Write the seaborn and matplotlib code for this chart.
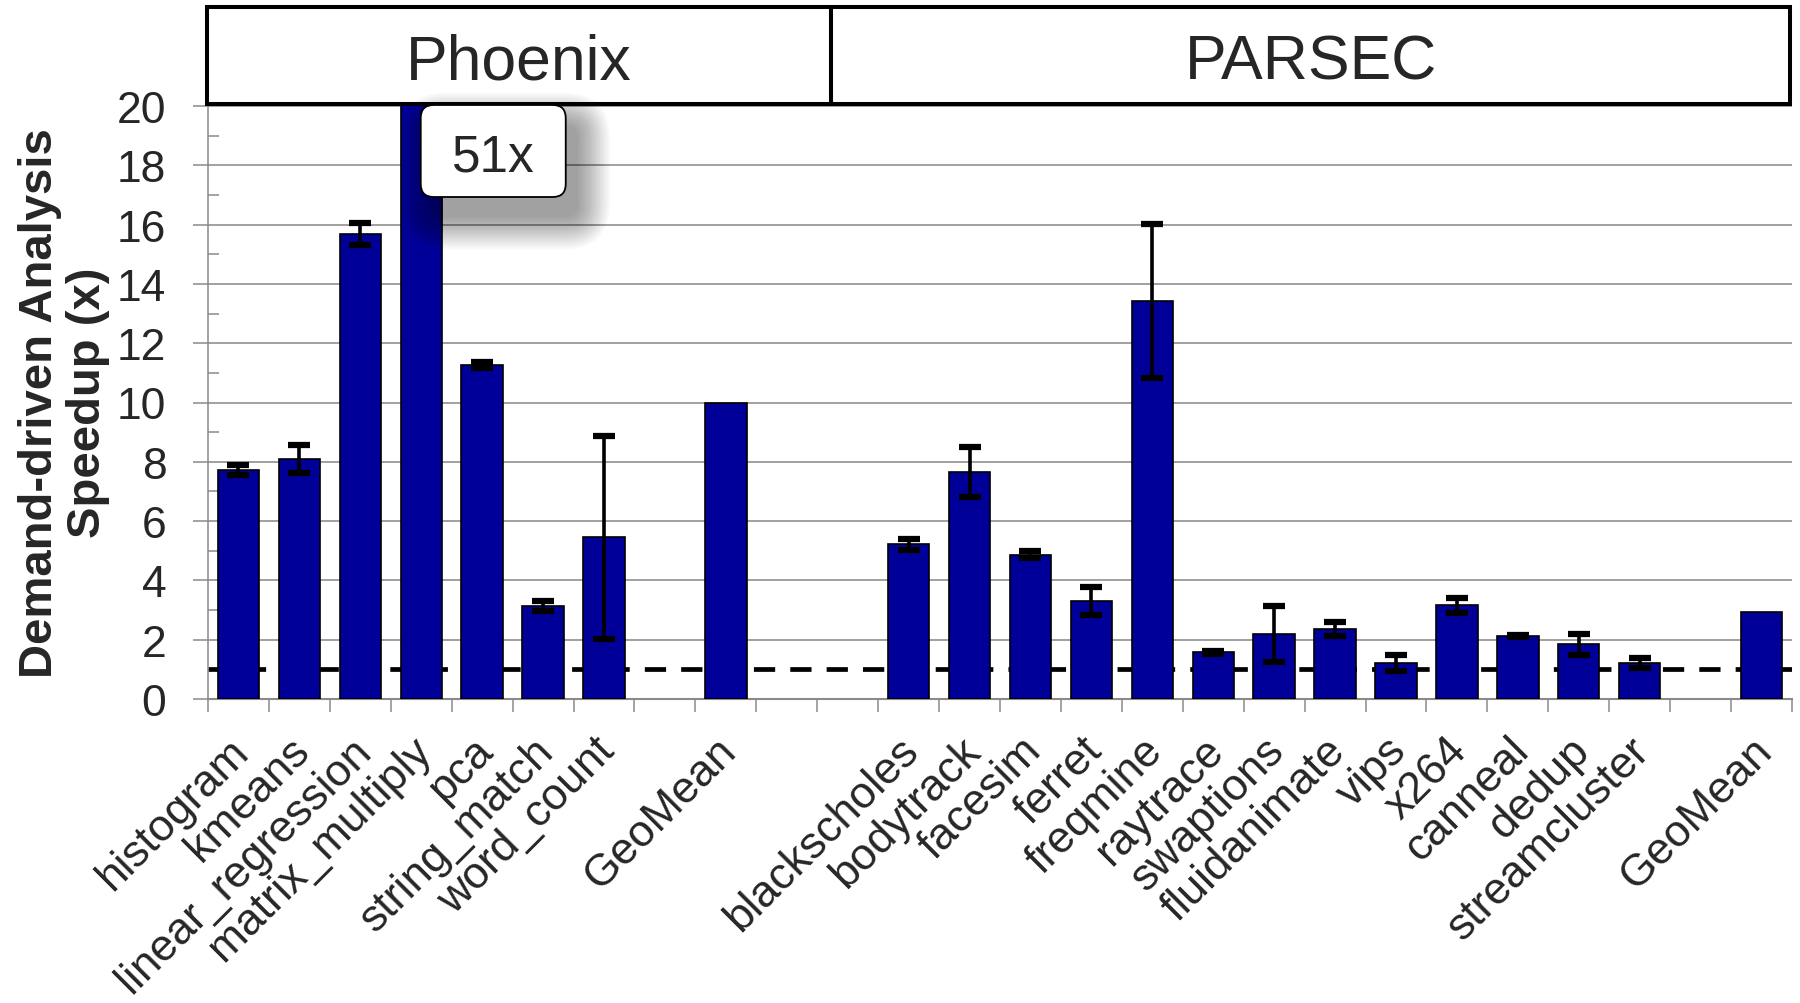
import numpy as np
import pandas as pd
import matplotlib
matplotlib.use("Agg")
import matplotlib.pyplot as plt
import seaborn as sns
from matplotlib.patches import Rectangle, FancyBboxPatch
from matplotlib.transforms import ScaledTranslation, blended_transform_factory, IdentityTransform

# ---- data -------------------------------------------------------------
phoenix_names = ["histogram", "kmeans", "linear_regression", "matrix_multiply",
                 "pca", "string_match", "word_count"]
phoenix_speedup = [7.72, 8.10, 15.68, 51.0, 11.26, 3.14, 5.45]
phoenix_err = [0.17, 0.47, 0.37, 0.0, 0.10, 0.17, 3.41]
phoenix_geomean = 9.97

parsec_names = ["blackscholes", "bodytrack", "facesim", "ferret", "freqmine",
                "raytrace", "swaptions", "fluidanimate", "vips", "x264",
                "canneal", "dedup", "streamcluster"]
parsec_speedup = [5.22, 7.65, 4.86, 3.30, 13.43, 1.58, 2.20, 2.35, 1.21, 3.16,
                  2.12, 1.84, 1.22]
parsec_err = [0.18, 0.84, 0.12, 0.47, 2.60, 0.05, 0.95, 0.24, 0.27, 0.25,
              0.04, 0.36, 0.17]
parsec_geomean = 2.95

suite_names = ["Phoenix", "PARSEC"]
geomean_label = "GeoMean"
baseline = 1.0
y_max = 20
clipped_label = "51x"

# ---- layout of slots: benchmarks, gap, geomean, gaps ... ----------------
names, values, errs, pos = [], [], [], []
slot = 0
for n, v, e in zip(phoenix_names, phoenix_speedup, phoenix_err):
    names.append(n); values.append(v); errs.append(e); pos.append(slot); slot += 1
slot += 1
names.append(geomean_label); values.append(phoenix_geomean); errs.append(np.nan); pos.append(slot)
slot += 3
for n, v, e in zip(parsec_names, parsec_speedup, parsec_err):
    names.append(n); values.append(v); errs.append(e); pos.append(slot); slot += 1
slot += 1
names.append(geomean_label); values.append(parsec_geomean); errs.append(np.nan); pos.append(slot)
n_slots = slot + 1

df = pd.DataFrame({"pos": pos, "name": names, "speedup": values, "err": errs})

# ---- figure --------------------------------------------------------------
sns.set_style("white")
plt.rcParams["font.family"] = ["Liberation Sans", "DejaVu Sans"]

W, H = 1800, 1004
fig = plt.figure(figsize=(W / 100, H / 100), dpi=100)
ax_l, ax_r, ax_t, ax_b = 208, 1792, 107, 700
ax = fig.add_axes([ax_l / W, 1 - ax_b / H, (ax_r - ax_l) / W, (ax_b - ax_t) / H])

gray = "#8a8a8a"
bar_color = "#000099"

sns.barplot(data=df, x="pos", y="speedup", native_scale=True, width=0.68,
            color=bar_color, saturation=1, edgecolor="black", linewidth=1.2,
            errorbar=None, ax=ax, zorder=3)

err_df = df.dropna(subset=["err"])
err_df = err_df[err_df["err"] > 0]
ax.errorbar(err_df["pos"], err_df["speedup"], yerr=err_df["err"], fmt="none",
            ecolor="black", elinewidth=2.6, capsize=8, capthick=4.5, zorder=4)

ax.axhline(baseline, color="black", lw=3.4, dashes=(4.5, 3.2), zorder=2)

ax.set_xlim(-0.5, n_slots - 0.5)
ax.set_ylim(0, y_max)
ax.set_xlabel("")
ax.set_ylabel("")

ax.set_yticks(np.arange(0, y_max + 1, 2))
ax.set_yticks(np.arange(1, y_max, 2), minor=True)
ax.tick_params(axis="y", which="major", direction="out", length=10.5, width=1.1,
               color=gray, pad=19.5, labelsize=32, left=True)
ax.tick_params(axis="y", which="minor", direction="in", length=8, width=1.1,
               color=gray, left=True)

ax.set_xticks(df["pos"])
ax.set_xticklabels([])
ax.set_xticks(np.arange(-0.5, n_slots, 1), minor=True)
ax.tick_params(axis="x", which="major", length=0, bottom=False)
ax.tick_params(axis="x", which="minor", direction="out", length=9.4, width=1.1,
               color=gray, bottom=True)

ax.yaxis.grid(True, which="major", color="#999999", lw=1.3)
ax.xaxis.grid(False)
ax.set_axisbelow(True)

for s in ["top", "right"]:
    ax.spines[s].set_visible(False)
ax.spines["left"].set_color(gray)
ax.spines["left"].set_linewidth(1.1)
ax.spines["bottom"].set_color(gray)
ax.spines["bottom"].set_linewidth(1.5)

# rotated category labels
lab_tr = blended_transform_factory(ax.transData, ax.transAxes) + \
    ScaledTranslation(0.04, -0.45, fig.dpi_scale_trans)
for n, p in zip(df["name"], df["pos"]):
    ax.text(p, 0, n, transform=lab_tr, rotation=45, ha="right", va="center",
            rotation_mode="anchor", fontsize=32)

# y-axis title
fig.text(64 / W, 1 - 403 / H, "Demand-driven Analysis\nSpeedup (x)", rotation=90,
         ha="center", va="center", multialignment="center", fontsize=34,
         fontweight="bold", linespacing=1.12)

# suite header boxes
hdr_top, hdr_bot = 8.3, 104.5
hdr_edges = [207, 831, 1790]
for i, name in enumerate(suite_names):
    x0, x1 = hdr_edges[i], hdr_edges[i + 1]
    rect = Rectangle((x0 / W, 1 - hdr_bot / H), (x1 - x0) / W, (hdr_bot - hdr_top) / H,
                     transform=fig.transFigure, fill=False, lw=2.9, ec="black",
                     joinstyle="miter", zorder=3)
    fig.add_artist(rect)
    fig.text((x0 + x1) / 2 / W, 1 - 80 / H, name, ha="center", va="baseline",
             fontsize=45, zorder=4)

# callout for the clipped bar, with a soft drop shadow
mm_pos = df.loc[df["name"] == "matrix_multiply", "pos"].iloc[0]
bx, by = ax.transData.transform((mm_pos, y_max))
cx, cy = bx + 72, by - 45
bw, bh, rr = 145, 92, 13
for k in range(26):
    g = 2.6 * k
    sh = FancyBboxPatch((cx - bw / 2 + 12 - g / 2, cy - bh / 2 - 20 - g / 2), bw + g, bh + g,
                        boxstyle=f"round,pad=0,rounding_size={rr + 1.3 * k}",
                        transform=IdentityTransform(), fc="black", ec="none",
                        alpha=0.017, zorder=5)
    fig.add_artist(sh)
box = FancyBboxPatch((cx - bw / 2, cy - bh / 2), bw, bh,
                     boxstyle=f"round,pad=0,rounding_size={rr}",
                     transform=IdentityTransform(), fc="white", ec="black",
                     lw=1.3, zorder=6)
fig.add_artist(box)
fig.text(cx, cy - 19.7, clipped_label, transform=IdentityTransform(),
         ha="center", va="baseline", fontsize=37, zorder=7)

fig.savefig("out.png", dpi=100)
